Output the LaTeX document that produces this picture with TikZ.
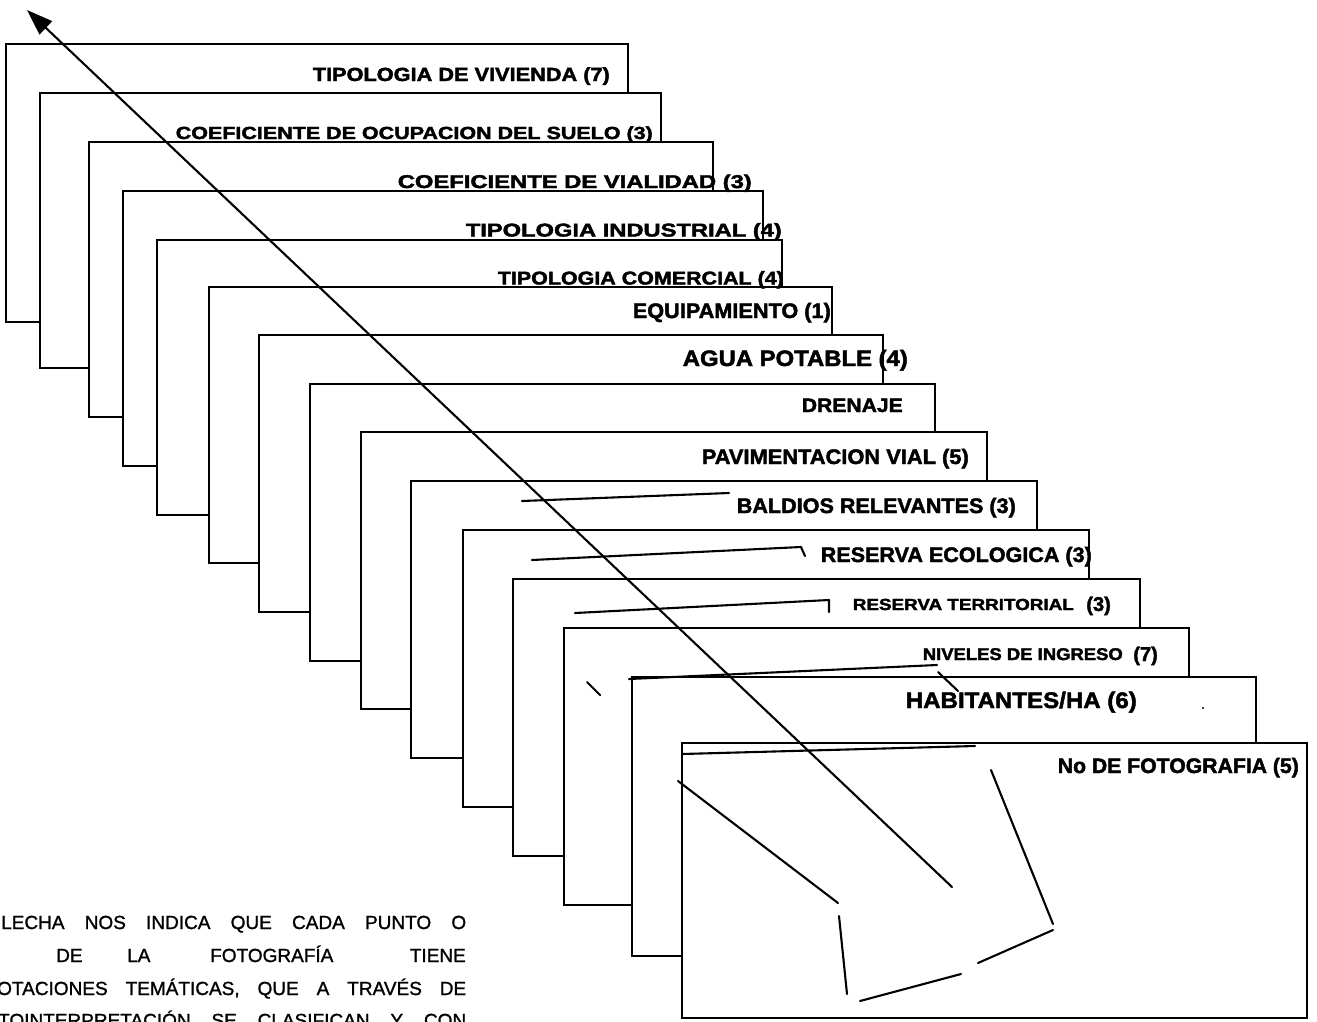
\documentclass[tikz,border=0pt]{standalone}
\usepackage{fontspec}
\setmainfont{Liberation Sans}[BoldFeatures={FakeBold=2}]
\newfontfamily\notefont{Liberation Sans}[FakeBold=1.2]
\usepackage{graphicx}
\usetikzlibrary{arrows.meta}

% stretch a label horizontally to a given width, keeping its height
\newcommand\fitw[2]{\resizebox{#1}{\height}{#2}}
\newcommand\fsz[1]{\fontsize{#1}{#1}\selectfont}
% a stacked card: name, left, top, right, bottom
\newcommand\card[5]{%
  \node[cardbox, minimum width={(#4-#2)*1pt}, minimum height={(#5-#3)*1pt}] (#1) at (#2,#3) {};}

\begin{document}
\begin{tikzpicture}[x=1pt,y=-1pt,
  cardbox/.style={draw=black, fill=white, line width=2.1pt, inner sep=0pt, outer sep=0pt, anchor=north west},
  tagtext/.style={inner sep=0pt, anchor=base east},
  note/.style={inner sep=0pt, anchor=base west, font=\notefont\fsz{19}},
  stroke/.style={line width=2.1pt, line cap=round, line join=round}]

\clip (0,0) rectangle (1317,1021);
\fill[white] (0,0) rectangle (1317,1021);

% the stack of thematic layers, back to front
\card{r1}{6}{44}{628}{322}
\card{r2}{40}{93}{661}{368}
\card{r3}{89}{142}{713}{417}
\card{r4}{123}{191}{763}{466}
\card{r5}{157}{240}{782}{515}
\card{r6}{209}{287}{832}{563}
\card{r7}{259}{335}{883}{612}
\card{r8}{310}{384}{935}{661}
\card{r9}{361}{432}{987}{709}
\card{r10}{411}{481}{1037}{758}
\card{r11}{463}{530}{1089}{807}
\card{r12}{513}{579}{1140}{856}
\card{r13}{564}{628}{1189}{905}
\card{r14}{632}{677}{1256}{956}
\card{r15}{682}{743}{1307}{1018}

% layer titles
\node[tagtext, font=\fsz{19}\bfseries] (t1) at (610,81) {\fitw{297pt}{TIPOLOGIA DE VIVIENDA (7)}};
\node[tagtext, font=\fsz{17.5}\bfseries] (t2) at (653,139) {\fitw{477pt}{COEFICIENTE DE OCUPACION DEL SUELO (3)}};
\node[tagtext, font=\fsz{18.5}\bfseries] (t3) at (752,188) {\fitw{354pt}{COEFICIENTE DE VIALIDAD (3)}};
\node[tagtext, font=\fsz{18.5}\bfseries] (t4) at (782,236.5) {\fitw{316pt}{TIPOLOGIA INDUSTRIAL (4)}};
\node[tagtext, font=\fsz{18.5}\bfseries] (t5) at (784,284.5) {\fitw{286pt}{TIPOLOGIA COMERCIAL (4)}};
\node[tagtext, font=\fsz{21}\bfseries] (t6) at (831,318) {\fitw{198pt}{EQUIPAMIENTO (1)}};
\node[tagtext, font=\fsz{22.3}\bfseries] (t7) at (908,366) {\fitw{225pt}{AGUA POTABLE (4)}};
\node[tagtext, font=\fsz{19.5}\bfseries] (t8) at (903,412) {\fitw{101pt}{DRENAJE}};
\node[tagtext, font=\fsz{21}\bfseries] (t9) at (969,464) {\fitw{267pt}{PAVIMENTACION VIAL (5)}};
\node[tagtext, font=\fsz{21}\bfseries] (t10) at (1016,513) {\fitw{279pt}{BALDIOS RELEVANTES (3)}};
\node[tagtext, font=\fsz{21}\bfseries] (t11) at (1092,562) {\fitw{271pt}{RESERVA ECOLOGICA (3)}};
\node[tagtext, font=\fsz{16}\bfseries] (t12) at (1074,610) {\fitw{221pt}{RESERVA TERRITORIAL}};
\node[tagtext, font=\fsz{20}\bfseries] (t12n) at (1111,611) {(3)};
\node[tagtext, font=\fsz{17}\bfseries] (t13) at (1123,660) {\fitw{200pt}{NIVELES DE INGRESO}};
\node[tagtext, font=\fsz{20}\bfseries] (t13n) at (1158,661) {(7)};
\node[tagtext, font=\fsz{22.5}\bfseries] (t14) at (1137,708) {\fitw{231pt}{HABITANTES/HA (6)}};
\node[tagtext, font=\fsz{21}\bfseries] (t15) at (1299,773) {\fitw{241pt}{No DE FOTOGRAFIA (5)}};

% stray strokes over the layers
\draw[stroke] (522,501) -- (729,493);
\draw[stroke] (532,560) -- (801,547) -- (805,556);
\draw[stroke] (575,613) -- (829,600) -- (829,612);
\draw[stroke] (629,679) -- (937,665);
\draw[stroke] (938,672) -- (958,691);
\draw[stroke] (587,682) -- (600,695);
\draw[stroke] (682,754) -- (975,746);
\draw[stroke] (678,781) -- (838,903);
\draw[stroke] (839,916) -- (847,994);
\draw[stroke] (860,1001) -- (961,974);
\draw[stroke] (978,963) -- (1053,930);
\draw[stroke] (1053,924) -- (991,770);
\fill (1203,708) circle (1.2);

% the arrow crossing all layers
\coordinate (tail) at (952,887);
\coordinate (tip) at (27,10);
\draw[stroke, -{Triangle[length=26pt,width=18pt]}] (tail) -- (tip);

% explanatory paragraph (cut by the page edge)
\node[note] (p1) at (1,929) {\makebox[465pt][s]{LECHA NOS INDICA QUE CADA PUNTO O}};
\node[note] (p2a) at (56,962) {DE};
\node[note] (p2b) at (127,962) {LA};
\node[note] (p2c) at (210,962) {FOTOGRAFÍA};
\node[note, anchor=base east] (p2d) at (466,962) {TIENE};
\node[note] (p3) at (-3,995) {\makebox[469pt][s]{OTACIONES TEMÁTICAS, QUE A TRAVÉS DE}};
\node[note] (p4) at (-2,1027) {\makebox[468pt][s]{TOINTERPRETACIÓN SE CLASIFICAN Y CON}};
\end{tikzpicture}
\end{document}
